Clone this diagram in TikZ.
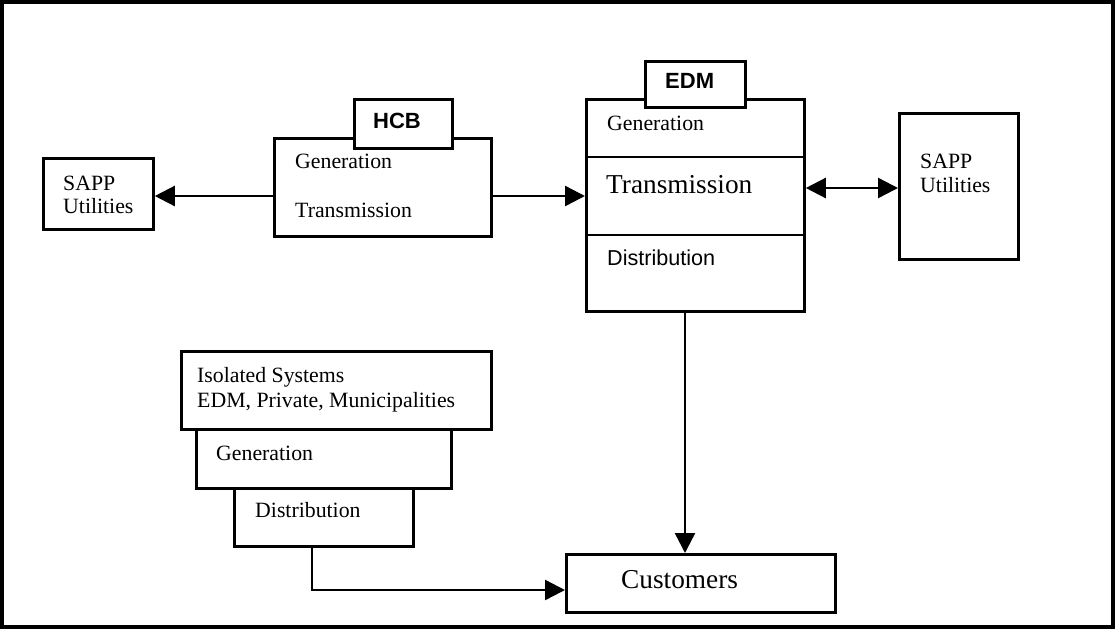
\documentclass[tikz,border=0pt]{standalone}
\usepackage{fontspec}
\setmainfont{Liberation Serif}
\newfontfamily\arsf{Liberation Sans}
\usetikzlibrary{arrows.meta}
\tikzset{
  box/.style={draw, line width=2.8pt, fill=white, inner sep=0pt, anchor=north west},
  txt/.style={anchor=base west, inner sep=0pt, font=\fontsize{21.8pt}{23pt}\selectfont},
  bigtxt/.style={anchor=base west, inner sep=0pt, font=\fontsize{27.3pt}{29pt}\selectfont},
  lbltxt/.style={anchor=base west, inner sep=0pt, font=\arsf\bfseries\fontsize{22pt}{23pt}\selectfont},
  sanstxt/.style={anchor=base west, inner sep=0pt, font=\arsf\fontsize{21.6pt}{23pt}\selectfont},
  arr/.style={line width=2.4pt, -{Triangle[length=20pt,width=20pt]}},
  darr/.style={line width=2.4pt, {Triangle[length=20pt,width=20pt]}-{Triangle[length=20pt,width=20pt]}},
  divider/.style={line width=2.4pt}
}
\begin{document}
\begin{tikzpicture}[x=1pt,y=-1pt]
\useasboundingbox (0,0) rectangle (1116,630);
\draw[line width=3.4pt] (2,2) rectangle (1113,627);

% boxes
\node[box, minimum width=110pt, minimum height=71pt] (sappL) at (42,157) {};
\node[box, minimum width=217pt, minimum height=98pt] (hcb) at (273,137) {};
\node[box, minimum width=98pt, minimum height=49pt] (hcbL) at (353,98) {};
\node[box, minimum width=218pt, minimum height=212pt] (edm) at (585,98) {};
\node[box, minimum width=100pt, minimum height=46pt] (edmL) at (644,60) {};
\node[box, minimum width=119pt, minimum height=146pt] (sappR) at (898,112) {};
\node[box, minimum width=269pt, minimum height=58pt] (cust) at (565,553) {};
\node[box, minimum width=310pt, minimum height=78pt] (iso) at (180,350) {};
\node[box, minimum width=255pt, minimum height=59pt] (isoG) at (195,428) {};
\node[box, minimum width=179pt, minimum height=58pt] (isoD) at (233,487) {};

% dividers in EDM
\coordinate (d1) at (0,157);
\coordinate (d2) at (0,235);
\draw[divider] (edm.west |- d1) -- (edm.east |- d1);
\draw[divider] (edm.west |- d2) -- (edm.east |- d2);

% texts
\node[txt] (t1) at (63,190) {SAPP};
\node[txt] (t2) at (63,213) {Utilities};
\node[txt] (t3) at (295,168) {Generation};
\node[txt] (t4) at (295,217) {Transmission};
\node[lbltxt] (t5) at (373,128) {HCB};
\node[lbltxt] (t6) at (665,88) {EDM};
\node[txt] (t7) at (607,130) {Generation};
\node[bigtxt] (t8) at (606,193) {Transmission};
\node[sanstxt] (t9) at (607,265) {Distribution};
\node[txt] (t10) at (920,168) {SAPP};
\node[txt] (t11) at (920,192) {Utilities};
\node[bigtxt] (t12) at (621,588) {Customers};
\node[txt] (t13) at (197,382) {Isolated Systems};
\node[txt] (t14) at (197,407) {EDM, Private, Municipalities};
\node[txt] (t15) at (216,460) {Generation};
\node[txt] (t16) at (255,517) {Distribution};

% connectors
\coordinate (a1) at (0,196);
\coordinate (a2) at (0,188);
\coordinate (a3) at (685,0);
\coordinate (a4) at (312,0);
\coordinate (a5) at (0,590);
\draw[arr] (hcb.west |- a1) -- (sappL.east |- a1);
\draw[arr] (hcb.east |- a1) -- (edm.west |- a1);
\draw[darr] (edm.east |- a2) -- (sappR.west |- a2);
\draw[arr] (edm.south -| a3) -- (cust.north -| a3);
\draw[arr] (isoD.south -| a4) |- (cust.west |- a5);
\end{tikzpicture}
\end{document}
